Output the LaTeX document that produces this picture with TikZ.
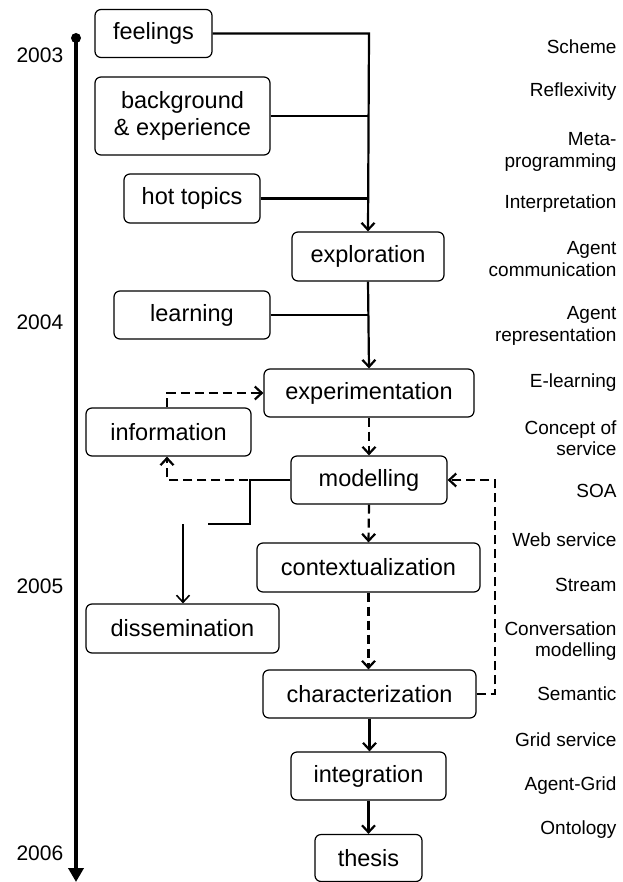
\documentclass[tikz,border=0pt]{standalone}
\usepackage{fontspec}
\setmainfont{Liberation Sans}
\usetikzlibrary{arrows.meta}
\begin{document}
\begin{tikzpicture}[x=1pt,y=-1pt,
  stagebox/.style={draw,rounded corners=6pt,line width=1.2pt,minimum height=48pt,
    inner sep=0pt,align=center,font=\fontsize{23.5}{27}\selectfont},
  flow/.style={line width=2.2pt,-{Straight Barb[length=7pt,width=13pt,line width=2.2pt]}},
  link/.style={line width=2.2pt},
  feedback/.style={line width=2.2pt,dash pattern=on 9pt off 5pt,
    -{Straight Barb[length=7pt,width=13pt,line width=2.2pt]}},
  topic/.style={anchor=east,align=right,font=\fontsize{19}{21.5}\selectfont},
  year/.style={anchor=west,font=\fontsize{21}{24}\selectfont}]
\useasboundingbox (0,0) rectangle (622,882);

% timeline
\fill (76,38) circle (5pt);
\coordinate (tstart) at (76,38);
\coordinate (tend) at (76,882);
\draw[line width=3.6pt,-{Triangle[length=14pt,width=15pt]}] (tstart) -- (tend);
\node[year] (y2003) at (13,55) {2003};
\node[year] (y2004) at (13,322) {2004};
\node[year] (y2005) at (13,586) {2005};
\node[year] (y2006) at (13,853) {2006};

% stages
\node[stagebox,minimum width=117pt] (feel) at (153.5,33.5) {feelings};
\node[stagebox,minimum width=175pt,minimum height=78pt] (back) at (182.5,116) {background\\\& experience};
\node[stagebox,minimum width=136pt,minimum height=49pt] (hot) at (192,198.5) {hot topics};
\node[stagebox,minimum width=152pt,minimum height=49pt] (explo) at (368,256.5) {exploration};
\node[stagebox,minimum width=156pt] (learn) at (192,315) {learning};
\node[stagebox,minimum width=210pt] (exper) at (369,393) {experimentation};
\node[stagebox,minimum width=165pt] (info) at (168.5,432) {information};
\node[stagebox,minimum width=156pt] (model) at (369,480) {modelling};
\node[stagebox,minimum width=223pt,minimum height=49pt] (context) at (368.5,567.5) {contextualization};
\node[stagebox,minimum width=193pt,minimum height=49pt] (dissem) at (182.5,628.5) {dissemination};
\node[stagebox,minimum width=213pt] (charac) at (369.5,694) {characterization};
\node[stagebox,minimum width=155pt] (integ) at (368.5,776) {integration};
\node[stagebox,minimum width=107pt,minimum height=47pt] (thesis) at (368.5,858) {thesis};

% converging inputs
\coordinate (trunk) at (369,33.5);
\draw[flow] (feel.east) -- (trunk) -- (explo.north);
\draw[link] (back.east) -- (369,116);
\draw[link] (hot.east) -- (369,198.5);
\draw[flow] (explo.south) -- (exper.north);
\draw[link] (learn.east) -- (369,315);

% experimentation loop with information
\coordinate (infoup) at (167,393);
\draw[feedback] (info.north -| infoup) -- (infoup) -- (exper.west);
\draw[feedback] (exper.south) -- (model.north);
\coordinate (infodown) at (167,480);
\draw[feedback] (model.west) -- (infodown) -- (info.south -| infodown);

% dissemination branch
\coordinate (bend) at (250,480);
\coordinate (stub) at (208,524);
\coordinate (dstart) at (183,524);
\draw[link] (model.west) -- (bend) |- (stub);
\draw[line width=1.6pt,-{Straight Barb[length=7pt,width=13pt,line width=1.6pt]}] (dstart) -- (dissem.north -| dstart);

% main line down
\draw[feedback] (model.south) -- (context.north);
\draw[feedback] (context.south) -- (context.south |- charac.north);
\coordinate (loopc) at (495,694);
\coordinate (loopt) at (495,480);
\draw[feedback] (charac.east) -- (loopc) -- (loopt) -- (model.east);
\draw[flow] (charac.south) -- (charac.south |- integ.north);
\draw[flow] (integ.south) -- (thesis.north);

% topics
\node[topic] (t1) at (620,47) {Scheme};
\node[topic] (t2) at (620,92) {Reflexivity};
\node[topic] (t3) at (620,152) {Meta-\\programming};
\node[topic] (t4) at (620,204) {Interpretation};
\node[topic] (t5) at (620,259) {Agent\\communication};
\node[topic] (t6) at (620,326) {Agent\\representation};
\node[topic] (t7) at (620,383) {E-learning};
\node[topic] (t8) at (620,438) {Concept of\\service};
\node[topic] (t9) at (620,491) {SOA};
\node[topic] (t10) at (620,540) {Web service};
\node[topic] (t11) at (620,585) {Stream};
\node[topic] (t12) at (620,641) {Conversation\\modelling};
\node[topic] (t13) at (620,694) {Semantic};
\node[topic] (t14) at (620,740) {Grid service};
\node[topic] (t15) at (620,786) {Agent-Grid};
\node[topic] (t16) at (620,830) {Ontology};
\end{tikzpicture}
\end{document}
